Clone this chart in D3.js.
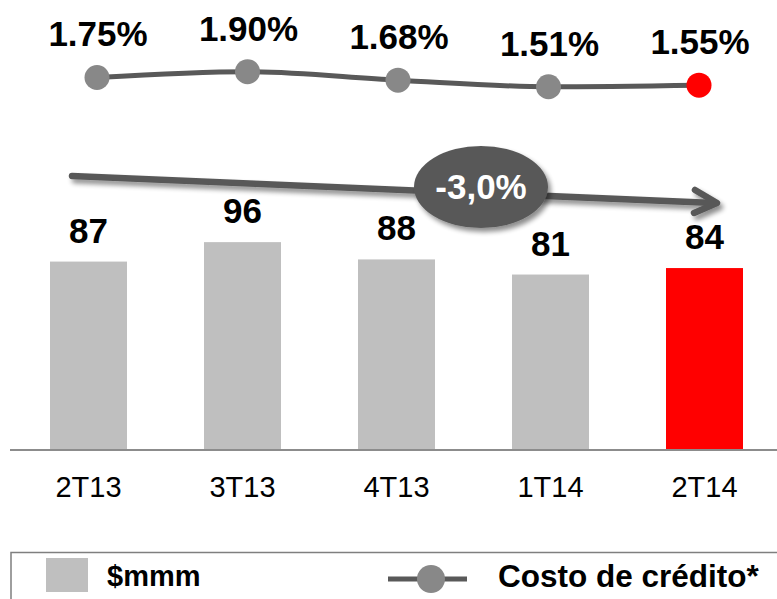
<!DOCTYPE html>
<html>
<head>
<meta charset="utf-8">
<script src="https://cdn.jsdelivr.net/npm/d3@7"></script>
<style>
  html, body { margin: 0; padding: 0; background: #ffffff; }
  svg { display: block; font-family: "Liberation Sans", Arial, Helvetica, sans-serif; }
</style>
</head>
<body>
<svg id="chart" width="777" height="599"></svg>
<script>
// Quarterly amounts ($mmm) and credit cost (%)
const quarters = ["2T13", "3T13", "4T13", "1T14", "2T14"];
const amounts = [87, 96, 88, 81, 84];
const creditCost = [1.75, 1.90, 1.68, 1.51, 1.55];
const changeLabel = "-3,0%";
const legendLabels = ["$mmm", "Costo de crédito*"];

const W = 777, H = 599;
const grey = "#bfbfbf", red = "#ff0000", dark = "#595959", dotGrey = "#888888";
const last = quarters.length - 1;

const svg = d3.select("#chart");

// drop shadow used by the trend arrow and badge
const defs = svg.append("defs");
const sh = defs.append("filter").attr("id", "shadow")
  .attr("x", "-20%").attr("y", "-40%").attr("width", "140%").attr("height", "180%");
sh.append("feGaussianBlur").attr("in", "SourceAlpha").attr("stdDeviation", 2.5).attr("result", "b");
sh.append("feOffset").attr("in", "b").attr("dx", 3).attr("dy", 4).attr("result", "o");
sh.append("feComponentTransfer").attr("in", "o").attr("result", "s")
  .append("feFuncA").attr("type", "linear").attr("slope", 0.45);
const m = sh.append("feMerge");
m.append("feMergeNode").attr("in", "s");
m.append("feMergeNode").attr("in", "SourceGraphic");

// ---- bars ----
const x = d3.scaleBand().domain(quarters).range([11.5, 781.5])
  .paddingInner(0.5).paddingOuter(0.25);
const y = d3.scaleLinear().domain([0, 100]).range([449.5, 233.5]);

svg.append("g").selectAll("rect").data(amounts).join("rect")
  .attr("x", (d, i) => x(quarters[i]))
  .attr("y", d => y(d))
  .attr("width", x.bandwidth())
  .attr("height", d => y(0) - y(d))
  .attr("fill", (d, i) => i === last ? red : grey);

// baseline axis with category labels
const xAxis = d3.axisBottom(x).tickSize(0).tickPadding(0);
const axisG = svg.append("g").attr("transform", `translate(0,${y(0)})`).call(xAxis);
axisG.select(".domain").remove();
axisG.selectAll("text")
  .attr("dy", 0).attr("y", 47)
  .attr("font-size", 29).attr("fill", "#000")
  .attr("font-family", "Liberation Sans, Arial, sans-serif");
svg.append("line").attr("x1", 10).attr("x2", W)
  .attr("y1", y(0) + 0.5).attr("y2", y(0) + 0.5)
  .attr("stroke", "#8c8c8c").attr("stroke-width", 2);

// value labels above bars
svg.append("g").selectAll("text").data(amounts).join("text")
  .attr("x", (d, i) => x(quarters[i]) + x.bandwidth() / 2)
  .attr("y", d => y(d) - 19)
  .attr("text-anchor", "middle")
  .attr("font-size", 35).attr("font-weight", "bold").attr("fill", "#000")
  .text(d => d);

// ---- credit cost line ----
const xp = d3.scalePoint().domain(quarters).range([97, 699]);
const yl = d3.scaleLinear().domain([1.5, 1.9]).range([87.1, 71.7]);

const line = d3.line()
  .x((d, i) => xp(quarters[i]))
  .y(d => yl(d))
  .curve(d3.curveMonotoneX);

svg.append("path").datum(creditCost)
  .attr("d", line).attr("fill", "none")
  .attr("stroke", dark).attr("stroke-width", 5);

svg.append("g").selectAll("circle").data(creditCost).join("circle")
  .attr("cx", (d, i) => xp(quarters[i]))
  .attr("cy", d => yl(d))
  .attr("r", 12.5)
  .attr("fill", (d, i) => i === last ? red : dotGrey);

svg.append("g").selectAll("text").data(creditCost).join("text")
  .attr("x", (d, i) => xp(quarters[i]) + 1)
  .attr("y", d => yl(d) - 31)
  .attr("text-anchor", "middle")
  .attr("font-size", 35).attr("font-weight", "bold").attr("fill", "#000")
  .text(d => d.toFixed(2) + "%");

// ---- trend arrow with change badge ----
const arrow = svg.append("g").attr("filter", "url(#shadow)");
const ax0 = 72, ay0 = 176, ax1 = 717, ay1 = 203;
arrow.append("line")
  .attr("x1", ax0).attr("y1", ay0).attr("x2", ax1 - 3).attr("y2", ay1)
  .attr("stroke", dark).attr("stroke-width", 6.5).attr("stroke-linecap", "round");
arrow.append("path")
  .attr("d", `M${ax1 - 22},${ay1 - 13} L${ax1},${ay1} L${ax1 - 23},${ay1 + 10}`)
  .attr("fill", "none").attr("stroke", dark).attr("stroke-width", 6.5)
  .attr("stroke-linecap", "round").attr("stroke-linejoin", "round");

const badge = svg.append("g").attr("filter", "url(#shadow)");
badge.append("ellipse").attr("cx", 481).attr("cy", 187).attr("rx", 67).attr("ry", 41)
  .attr("fill", dark);
svg.append("text").attr("x", 481).attr("y", 199)
  .attr("text-anchor", "middle")
  .attr("font-size", 35).attr("font-weight", "bold").attr("fill", "#ffffff")
  .text(changeLabel);

// ---- legend ----
const lg = svg.append("g");
lg.append("path").attr("d", `M11,${H + 2} L11,552.5 L${W + 2},552.5`)
  .attr("fill", "none").attr("stroke", "#7f7f7f").attr("stroke-width", 1.5);
lg.append("rect").attr("x", 46).attr("y", 558).attr("width", 42).attr("height", 34)
  .attr("fill", grey);
lg.append("text").attr("x", 107).attr("y", 586).attr("font-size", 29)
  .attr("font-weight", "bold").attr("fill", "#000").text(legendLabels[0]);
lg.append("line").attr("x1", 388).attr("x2", 467).attr("y1", 579).attr("y2", 579)
  .attr("stroke", dark).attr("stroke-width", 5);
lg.append("circle").attr("cx", 431).attr("cy", 579).attr("r", 14).attr("fill", dotGrey);
lg.append("text").attr("x", 498).attr("y", 587).attr("font-size", 31.5)
  .attr("font-weight", "bold").attr("fill", "#000").text(legendLabels[1]);
</script>
</body>
</html>
